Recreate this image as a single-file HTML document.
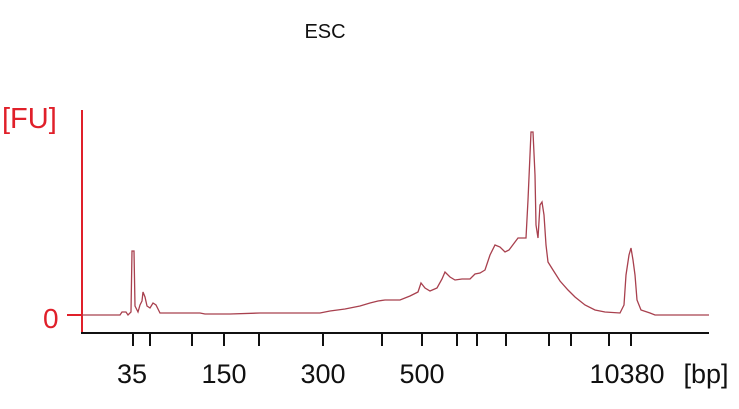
<!DOCTYPE html>
<html><head><meta charset="utf-8"><style>
body{margin:0;background:#fff;}
svg{display:block;font-family:"Liberation Sans",sans-serif;}
</style></head><body>
<svg width="739" height="409" viewBox="0 0 739 409">
<text x="325" y="38" font-size="20" text-anchor="middle" fill="#111">ESC</text>
<text x="2" y="128" font-size="29" fill="#e0202a">[FU]</text>
<text x="43" y="328" font-size="28" fill="#e0202a">0</text>
<line x1="82" y1="110" x2="82" y2="334" stroke="#e0202a" stroke-width="2"/>
<line x1="67" y1="315" x2="82" y2="315" stroke="#e0202a" stroke-width="2"/>
<line x1="81" y1="333" x2="709" y2="333" stroke="#111" stroke-width="2"/>
<g stroke="#111" stroke-width="2">
<line x1="133" y1="333" x2="133" y2="346"/><line x1="150" y1="333" x2="150" y2="346"/>
<line x1="192" y1="333" x2="192" y2="346"/><line x1="224" y1="333" x2="224" y2="346"/>
<line x1="259" y1="333" x2="259" y2="346"/><line x1="323" y1="333" x2="323" y2="346"/>
<line x1="382" y1="333" x2="382" y2="346"/><line x1="422" y1="333" x2="422" y2="346"/>
<line x1="457" y1="333" x2="457" y2="346"/><line x1="477" y1="333" x2="477" y2="346"/>
<line x1="506" y1="333" x2="506" y2="346"/><line x1="549" y1="333" x2="549" y2="346"/>
<line x1="571" y1="333" x2="571" y2="346"/><line x1="609" y1="333" x2="609" y2="346"/>
<line x1="631" y1="333" x2="631" y2="346"/>
</g>
<g font-size="27" fill="#111" text-anchor="middle">
<text x="132" y="383">35</text><text x="224" y="383">150</text>
<text x="323" y="383">300</text><text x="422" y="383">500</text>
<text x="627" y="383">10380</text><text x="706" y="383">[bp]</text>
</g>
<polyline fill="none" stroke="#a8404e" stroke-width="1.3" points="82,315 120,315 122,312 126,312 128,315 131,312 132,251 134,251 135,306 138,312 140,305 142,301 143,292 145,297 147,306 150,308 153,303 156,305 160,313 200,313 205,314 230,314 260,313 320,313 330,311 345,309 360,306 370,303 378,301 385,300 400,300 410,296 418,292 421,283 425,288 430,291 437,288 442,279 445,272 450,277 455,280 462,279 470,279 475,274 480,273 485,270 490,255 495,245 500,247 505,252 509,250 515,242 518,238 526,238 528,200 531,132 533,132 535,175 536,225 538,238 540,205 542,202 544,215 546,245 548,262 553,270 560,281 568,290 575,297 585,305 595,310 605,312 620,313 624,305 626,275 629,255 631,248 633,260 635,275 637,300 641,310 650,313 655,315 709,315"/>
</svg>
</body></html>
